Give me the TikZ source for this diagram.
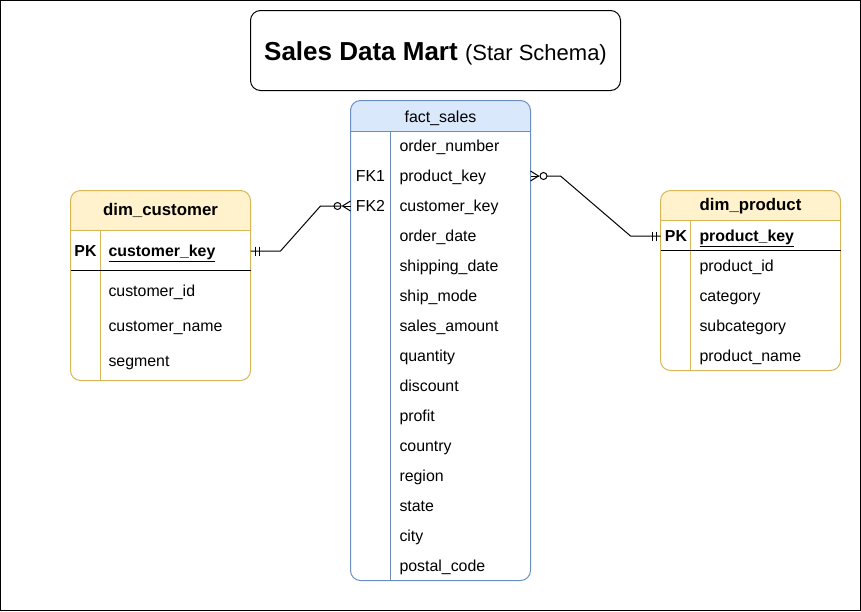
\documentclass[tikz,border=0pt]{standalone}
\usepackage{fontspec}
\setmainfont{Liberation Sans}
\usetikzlibrary{calc}
\definecolor{bfill}{HTML}{DAE8FC}
\definecolor{bline}{HTML}{6C8EBF}
\definecolor{yfill}{HTML}{FFF2CC}
\definecolor{yline}{HTML}{D6B656}
\begin{document}
\begin{tikzpicture}[x=1pt,y=-1pt,line width=1pt,
  txt/.style={inner sep=0pt,anchor=west,font=\fontsize{15.9}{18}\selectfont,text height=13pt,text depth=2pt},
  ctr/.style={txt,anchor=center},
  bctr/.style={ctr,font=\fontsize{15.9}{18}\selectfont\bfseries},
  hdr/.style={ctr,font=\fontsize{16.8}{19}\selectfont\bfseries},
  btxt/.style={txt,font=\fontsize{15.9}{18}\selectfont\bfseries},
  conn/.style={draw=black,line width=1pt},
  frameB/.style={draw=bline,line width=1pt},
  frameY/.style={draw=yline,line width=1pt}]
\useasboundingbox (0,0) rectangle (861,611);
\draw[line width=1pt] (0.5,0.5) rectangle (860.5,610.5);

% title
\node[draw,rounded corners=10pt,minimum width=370pt,minimum height=80pt,inner sep=0pt,text height=20pt,text depth=0pt] (title) at (435.5,50.5)
  {\fontsize{26}{30}\selectfont\bfseries Sales Data Mart \fontsize{22}{26}\selectfont\mdseries(Star Schema)};

% fact_sales
\begin{scope}
\clip[rounded corners=10pt] (350.5,100.5) rectangle (530.5,580.5);
\fill[bfill] (350.5,100.5) rectangle (530.5,131.5);
\end{scope}
\draw[frameB,rounded corners=10pt] (350.5,100.5) rectangle (530.5,580.5);
\draw[frameB] (350.5,131.5) -- (530.5,131.5);
\draw[frameB] (390.5,131.5) -- (390.5,580.5);
\node[ctr] (fact) at (440.5,117) {fact\_sales};
\foreach \t [count=\i from 0] in {order\_number,product\_key,customer\_key,order\_date,shipping\_date,ship\_mode,sales\_amount,quantity,discount,profit,country,region,state,city,postal\_code}
  \node[txt] (f\i) at (399,146+30*\i) {\t};
\node[ctr] (fk1) at (370.5,176) {FK1};
\node[ctr] (fk2) at (370.5,206) {FK2};

% dim_customer
\begin{scope}
\clip[rounded corners=10pt] (70.5,190.5) rectangle (250.5,380.5);
\fill[yfill] (70.5,190.5) rectangle (250.5,230.5);
\end{scope}
\draw[frameY,rounded corners=10pt] (70.5,190.5) rectangle (250.5,380.5);
\draw[frameY] (70.5,230.5) -- (250.5,230.5);
\draw[frameY] (100.5,230.5) -- (100.5,380.5);
\draw[black] (70.5,270.5) -- (250.5,270.5);
\node[hdr] (dc) at (160.5,210) {dim\_customer};
\node[bctr] (dcpk) at (85.5,251) {PK};
\node[btxt] (dck) at (108,251) {\underline{customer\_key}};
\node[txt] (dc1) at (108,291) {customer\_id};
\node[txt] (dc2) at (108,326) {customer\_name};
\node[txt] (dc3) at (108,361) {segment};

% dim_product
\begin{scope}
\clip[rounded corners=10pt] (660.5,190.5) rectangle (840.5,370.5);
\fill[yfill] (660.5,190.5) rectangle (840.5,220.5);
\end{scope}
\draw[frameY,rounded corners=10pt] (660.5,190.5) rectangle (840.5,370.5);
\draw[frameY] (660.5,220.5) -- (840.5,220.5);
\draw[frameY] (690.5,220.5) -- (690.5,370.5);
\draw[black] (660.5,250.5) -- (840.5,250.5);
\node[hdr] (dp) at (750.5,205) {dim\_product};
\node[bctr] (dppk) at (676,236) {PK};
\node[btxt] (dpk) at (699,236) {\underline{product\_key}};
\node[txt] (dp1) at (699,266) {product\_id};
\node[txt] (dp2) at (699,296) {category};
\node[txt] (dp3) at (699,326) {subcategory};
\node[txt] (dp4) at (699,356) {product\_name};

% connector endpoints
\coordinate (ca) at (250.5,251);
\coordinate (fa) at (350.5,206);
\coordinate (fb) at (530.5,176);
\coordinate (pa) at (660.5,236);

% customer -> fact (one mandatory to zero-or-many)
\draw[conn] (ca) -- ++(30,0) -- ($(fa)+(-30,0)$) -- ($(fa)+(-9.5,0)$);
\draw[conn] ($(ca)+(5,-4.5)$) -- ++(0,9);
\draw[conn] ($(ca)+(9,-4.5)$) -- ++(0,9);
\draw[conn] ($(fa)+(-13,0)$) circle (3.5pt);
\draw[conn] ($(fa)+(0,-5)$) -- ($(fa)+(-8,0)$) -- ($(fa)+(0,5)$);
\draw[conn] ($(fa)+(-8,0)$) -- (fa);

% fact -> product
\draw[conn] ($(fb)+(16.5,0)$) -- ($(fb)+(30,0)$) -- ($(pa)+(-30,0)$) -- (pa);
\draw[conn] ($(pa)+(-8,-4.5)$) -- ++(0,9);
\draw[conn] ($(pa)+(-4,-4.5)$) -- ++(0,9);
\draw[conn] ($(fb)+(13,0)$) circle (3.5pt);
\draw[conn] ($(fb)+(0,-5)$) -- ($(fb)+(8,0)$) -- ($(fb)+(0,5)$);
\draw[conn] ($(fb)+(8,0)$) -- (fb);
\end{tikzpicture}
\end{document}
